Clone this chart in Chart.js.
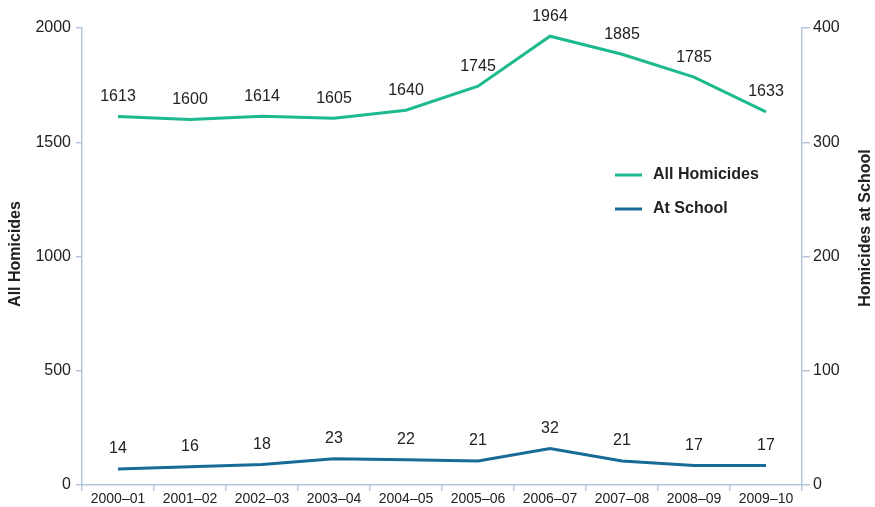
<!DOCTYPE html>
<html>
<head>
<meta charset="utf-8">
<script src="https://cdn.jsdelivr.net/npm/chart.js@4"></script>
<style>
  html, body { margin: 0; padding: 0; background: #fff; }
  #wrap { width: 875px; height: 507px; position: relative; }
</style>
</head>
<body>
<div id="wrap"><canvas id="chart" width="875" height="507"></canvas></div>
<script>
"use strict";

// ---------- Data ----------
const years = ["2000–01", "2001–02", "2002–03", "2003–04", "2004–05", "2005–06", "2006–07", "2007–08", "2008–09", "2009–10"];
const allHomicides = [1613, 1600, 1614, 1605, 1640, 1745, 1964, 1885, 1785, 1633];
const atSchool = [14, 16, 18, 23, 22, 21, 32, 21, 17, 17];
const leftTicks = [0, 500, 1000, 1500, 2000];
const rightTicks = [0, 100, 200, 300, 400];

const GREEN = "#1dba8e";
const BLUE = "#196b97";
const AXIS = "#b4c6de";
const TEXT = "#222";
const FONT = "'Liberation Sans', Arial, sans-serif";

// ---------- Plugins ----------
const pointLabels = {
  id: "pointLabels",
  afterDatasetsDraw(chart) {
    const ctx = chart.ctx;
    ctx.save();
    ctx.font = `16px ${FONT}`;
    ctx.fillStyle = TEXT;
    ctx.textAlign = "center";
    ctx.textBaseline = "middle";
    chart.data.datasets.forEach((ds, i) => {
      chart.getDatasetMeta(i).data.forEach((pt, j) => {
        ctx.fillText(String(ds.data[j]), pt.x, pt.y - 20);
      });
    });
    ctx.restore();
  },
};

const extras = {
  id: "extras",
  afterDraw(chart) {
    const ctx = chart.ctx;
    ctx.save();
    // axis titles, both reading bottom to top
    ctx.font = `bold 16px ${FONT}`;
    ctx.fillStyle = TEXT;
    ctx.textAlign = "center";
    ctx.textBaseline = "middle";
    [[16, 254, "All Homicides"], [866, 228, "Homicides at School"]].forEach(([x, y, t]) => {
      ctx.save();
      ctx.translate(x, y);
      ctx.rotate(-Math.PI / 2);
      ctx.fillText(t, 0, 0);
      ctx.restore();
    });
    // legend
    ctx.textAlign = "left";
    chart.data.datasets.forEach((ds, i) => {
      const y = 175 + i * 34;
      ctx.strokeStyle = ds.borderColor;
      ctx.lineWidth = 3;
      ctx.beginPath();
      ctx.moveTo(615, y);
      ctx.lineTo(642, y);
      ctx.stroke();
      ctx.fillText(ds.label, 653, y);
    });
    ctx.restore();
  },
};

// ---------- Chart ----------
const tickFont = { family: FONT, size: 16 };
const plain = (v) => String(v);

new Chart(document.getElementById("chart"), {
  type: "line",
  data: {
    labels: years,
    datasets: [
      { label: "All Homicides", data: allHomicides, yAxisID: "yL", borderColor: GREEN, borderWidth: 3, pointRadius: 0, tension: 0 },
      { label: "At School", data: atSchool, yAxisID: "yR", borderColor: BLUE, borderWidth: 3, pointRadius: 0, tension: 0 },
    ],
  },
  options: {
    responsive: false,
    animation: false,
    layout: { padding: { top: 28, left: 0, right: 0, bottom: 0 } },
    plugins: { legend: { display: false }, tooltip: { enabled: false } },
    scales: {
      x: {
        offset: true,
        border: { color: AXIS, width: 1.5 },
        grid: { offset: true, drawOnChartArea: false, color: AXIS, lineWidth: 1.5, tickLength: 6 },
        ticks: { font: { family: FONT, size: 14 }, color: TEXT, padding: 0, maxRotation: 0, autoSkip: false },
        afterFit: (s) => { s.height = 22; },
      },
      yL: {
        position: "left",
        min: 0, max: 2000,
        afterBuildTicks: (s) => { s.ticks = leftTicks.map((v) => ({ value: v })); },
        border: { color: AXIS, width: 1.5 },
        grid: { drawOnChartArea: false, color: AXIS, lineWidth: 1.5, tickLength: 6 },
        ticks: { font: tickFont, color: TEXT, padding: 5, callback: plain },
        afterFit: (s) => { s.width = 82; },
      },
      yR: {
        position: "right",
        min: 0, max: 400,
        afterBuildTicks: (s) => { s.ticks = rightTicks.map((v) => ({ value: v })); },
        border: { color: AXIS, width: 1.5 },
        grid: { drawOnChartArea: false, color: AXIS, lineWidth: 1.5, tickLength: 8 },
        ticks: { font: tickFont, color: TEXT, padding: 3, callback: plain },
        afterFit: (s) => { s.width = 73; },
      },
    },
  },
  plugins: [pointLabels, extras],
});
</script>
</body>
</html>
